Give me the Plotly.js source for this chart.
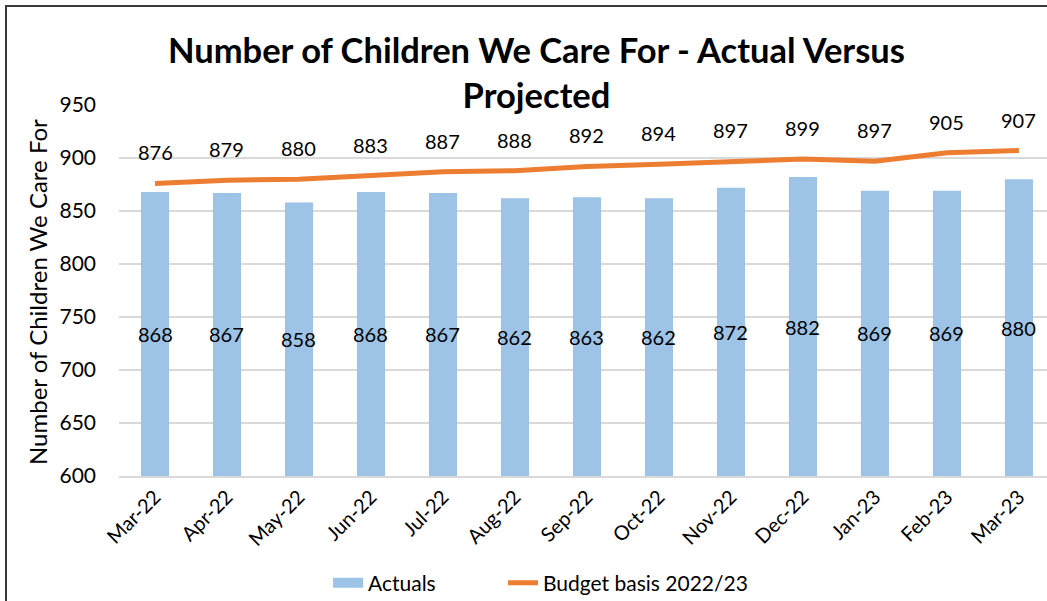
<!DOCTYPE html>
<html>
<head>
<meta charset="utf-8">
<script src="https://cdn.plot.ly/plotly-3.0.1.min.js"></script>
<style>
  body { margin: 0; padding: 0; background: #fff; }
  #chart { width: 1047px; height: 601px; position: absolute; left: 0; top: 0; }
  #frame { position: absolute; left: 5px; top: 5px; width: 1100px; height: 700px; border: 2px solid #3a3a3a; pointer-events: none; box-sizing: border-box; }
</style>
</head>
<body>
<div id="chart"></div>
<div id="frame"></div>
<script>
const months = ["Mar-22","Apr-22","May-22","Jun-22","Jul-22","Aug-22","Sep-22","Oct-22","Nov-22","Dec-22","Jan-23","Feb-23","Mar-23"];
const actuals = [868,867,858,868,867,862,863,862,872,882,869,869,880];
const budget = [876,879,880,883,887,888,892,894,897,899,897,905,907];
const yTicks = [600,650,700,750,800,850,900,950];
const titleText = "Number of Children We Care For - Actual Versus<br>Projected";
const yTitleText = "Number of Children We Care For";

const FONT = "Lato, 'Open Sans', sans-serif";
const Y_MIN = 600, Y_MAX = 950;

const traces = [
  {
    type: "bar",
    name: "Actuals",
    x: months,
    y: actuals,
    width: 0.39,
    marker: { color: "#9DC3E6" },
    showlegend: false,
    hoverinfo: "x+y"
  },
  {
    // legend proxy for the bars (wide rectangle key like the reference)
    type: "scatter",
    mode: "lines",
    name: "Actuals",
    x: [months[0]],
    y: [null],
    line: { color: "#9DC3E6", width: 14 },
    legend: "legend",
    hoverinfo: "skip"
  },
  {
    type: "scatter",
    mode: "lines",
    name: "Budget basis 2022/23",
    x: months,
    y: budget,
    line: { color: "#ED7D31", width: 5 },
    legend: "legend2",
    hoverinfo: "x+y"
  }
];

const lineLabels = budget.map((v, i) => ({
  x: months[i], y: v, xref: "x", yref: "y",
  text: String(v), showarrow: false, yshift: 31,
  font: { family: FONT, size: 20, color: "#000" }
}));

const barLabels = actuals.map((v, i) => ({
  x: months[i], y: (Y_MIN + v) / 2, xref: "x", yref: "y",
  text: String(v), showarrow: false, yshift: 0,
  font: { family: FONT, size: 20, color: "#000" }
}));

const extra = [
  {
    text: "<b>" + titleText + "</b>",
    xref: "paper", yref: "paper",
    x: (536 - 119) / 928, y: 1 + (105 - 72) / 371,
    xanchor: "center", yanchor: "middle",
    showarrow: false,
    font: { family: FONT, size: 34.5, color: "#000" }
  },
  {
    text: yTitleText,
    xref: "paper", yref: "paper",
    x: (37 - 119) / 928, y: (476 - 292) / 371,
    xanchor: "center", yanchor: "middle",
    textangle: -90,
    showarrow: false,
    font: { family: FONT, size: 24, color: "#000" }
  }
];

const legendCommon = {
  orientation: "h",
  xref: "container", yref: "container",
  xanchor: "left",
  y: 1 - 583/601, yanchor: "middle",
  font: { family: FONT, size: 21, color: "#000" },
  bgcolor: "rgba(0,0,0,0)"
};

const layout = {
  width: 1047, height: 601,
  margin: { l: 119, r: 0, t: 105, b: 125, pad: 0 },
  paper_bgcolor: "#fff", plot_bgcolor: "#fff",
  font: { family: FONT, color: "#000" },
  xaxis: {
    type: "category",
    range: [-0.5, 12.39],
    tickangle: -45,
    tickfont: { family: FONT, size: 20, color: "#000" },
    showgrid: false,
    showline: true, linecolor: "#D9D9D9", linewidth: 1.5,
    ticks: "", automargin: false
  },
  yaxis: {
    range: [Y_MIN, Y_MAX],
    tickvals: yTicks,
    ticktext: yTicks.map(String),
    tickfont: { family: FONT, size: 21, color: "#000" },
    showgrid: true, gridcolor: "#D9D9D9", gridwidth: 1.5,
    zeroline: false, ticks: "", ticklen: 0,
    ticklabelstandoff: 22,
    automargin: false
  },
  showlegend: true,
  legend: Object.assign({}, legendCommon, { x: 328/1047 }),
  legend2: Object.assign({}, legendCommon, { x: 503/1047 }),
  annotations: lineLabels.concat(barLabels, extra),
  bargap: 0.61
};

Plotly.newPlot("chart", traces, layout, { displayModeBar: false, staticPlot: true });
</script>
</body>
</html>
